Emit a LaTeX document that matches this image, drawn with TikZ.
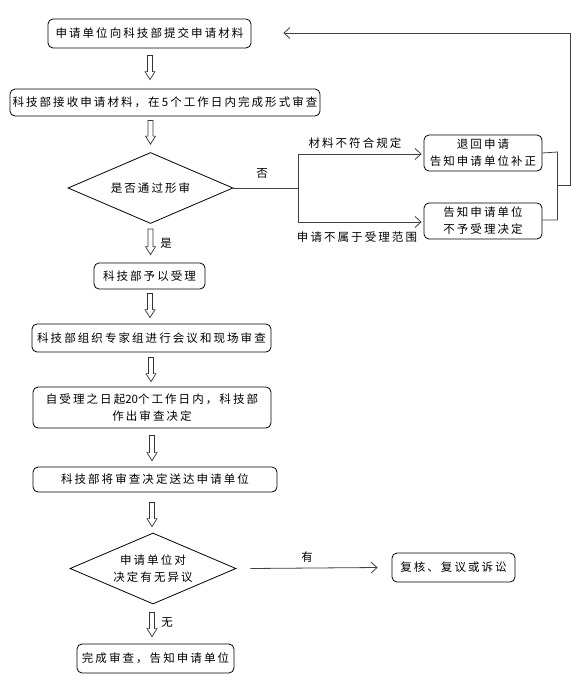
\documentclass[tikz,border=0pt]{standalone}
\usepackage{fontspec}
\setmainfont{Noto Sans CJK SC}[LetterSpace=18]
\newfontfamily\digfont{Noto Sans CJK SC}
\usetikzlibrary{shapes.geometric,arrows.meta,calc}
\newcommand\harrow[2]{\draw[harr] let \p1=#1, \p2=#2 in
  (\x1-2.5pt,\y1) -- (\x1-2.5pt,\y2+8pt) -- (\x1-5pt,\y2+8pt) -- (\x1,\y2)
  -- (\x1+5pt,\y2+8pt) -- (\x1+2.5pt,\y2+8pt) -- (\x1+2.5pt,\y1) -- cycle;}
\begin{document}
\begin{tikzpicture}[x=1pt,y=-1pt,
  every node/.style={font=\fontsize{11.5pt}{17pt}\selectfont},
  box/.style={draw, rounded corners=5pt, inner sep=0pt, align=center, line width=0.8pt},
  dia/.style={draw, diamond, aspect=2.3, inner sep=0pt, align=center, line width=0.8pt},
  conn/.style={draw=black!75, line width=0.8pt},
  tip/.style={-{Straight Barb[length=6pt,width=11pt]}},
  harr/.style={draw=black!80, line width=0.7pt, line join=miter},
  lbl/.style={inner sep=0pt}]
\useasboundingbox[fill=white] (0,0) rectangle (578,686);

\node[box, minimum width=203pt, minimum height=29pt] (b1) at (149.5,33.5) {申请单位向科技部提交申请材料};
\node[box, minimum width=310pt, minimum height=27pt] (b2) at (165,102.5) {科技部接收申请材料，在5个工作日内完成形式审查};
\node[dia, minimum width=165pt, minimum height=71pt] (d1) at (150.5,188) {是否通过形审};
\node[box, minimum width=118pt, minimum height=36pt] (r1) at (483,153) {退回申请\\告知申请单位补正};
\node[box, minimum width=118pt, minimum height=36pt] (r2) at (483,221) {告知申请单位\\不予受理决定};
\node[box, minimum width=111pt, minimum height=26pt] (b3) at (149.5,276) {科技部予以受理};
\node[box, minimum width=239pt, minimum height=28pt] (b4) at (151.5,338) {科技部组织专家组进行会议和现场审查};
\node[box, minimum width=238pt, minimum height=41pt] (b5) at (152,407.5) {自受理之日起{\digfont 20}个工作日内，科技部\\作出审查决定};
\node[box, minimum width=244pt, minimum height=25pt] (b6) at (155,479.5) {科技部将审查决定送达申请单位};
\node[dia, minimum width=166pt, minimum height=71pt] (d2) at (153,568.5) {申请单位对\\决定有无异议};
\node[box, minimum width=123pt, minimum height=29pt] (b7) at (453.5,567.5) {复核、复议或诉讼};
\node[box, minimum width=157pt, minimum height=29pt] (b8) at (155.5,658.5) {完成审查，告知申请单位};

% hollow arrows
\harrow{($(b1.south)+(0.5,7)$)}{($(b1.south |- b2.north)+(0,-9)$)}
\harrow{($(d1.north |- b2.south)+(0,4)$)}{($(d1.north)+(0,-8)$)}
\harrow{($(d1.south)+(0,5)$)}{($(b3.north)+(0,-8)$)}
\harrow{($(b3.south)+(0.5,4)$)}{($(b4.north)+(0,-6)$)}
\harrow{($(b4.south)+(-0.5,5)$)}{($(b5.north)+(0,-5)$)}
\harrow{($(b5.south)+(0,7)$)}{($(b6.north)+(0,-6)$)}
\harrow{($(d2.north |- b6.south)+(-1,10)$)}{($(d2.north)+(0,-6)$)}
\harrow{($(d2.south)+(-1,8)$)}{($(b8.north)+(0,-7)$)}

% labels
\node[lbl] (yes) at (166,243) {是};
\node[lbl] (wu) at (167,623) {无};
\node[lbl] (fou) at (262,173) {否};
\node[lbl] (lab1) at (355,143) {材料不符合规定};
\node[lbl] (lab2) at (357,237) {申请不属于受理范围};
\node[lbl] (you) at (307,557) {有};

% branch after first decision
\draw[conn] (d1.east) -- ++(65,0) coordinate (split);
\draw[conn] (split) ++(0,-34) coordinate (up) -- ++(0,68) coordinate (dn);
\draw[conn,tip] (up) -- ($(r1.west)+(-2,1)$);
\draw[conn,tip] (dn) -- ($(r2.west)+(-2,1)$);

% feedback loop
\draw[conn] (r1.east) -- ++(15,-1) coordinate (fa) -- ($(r2.east)+(15,-1)$) coordinate (fb) -- ($(r2.east)+(0,-1)$);
\coordinate (merge) at ($(fa)!0.49!(fb)$);
\coordinate (ret) at ($(b1.east)+(32,-0.5)$);
\draw[conn,tip] (merge) -- ++(13,0) |- (ret);

% second decision
\draw[conn,tip] ($(d2.east)+(14,0)$) -- ($(b7.west)+(-14,0)$);
\end{tikzpicture}
\end{document}
